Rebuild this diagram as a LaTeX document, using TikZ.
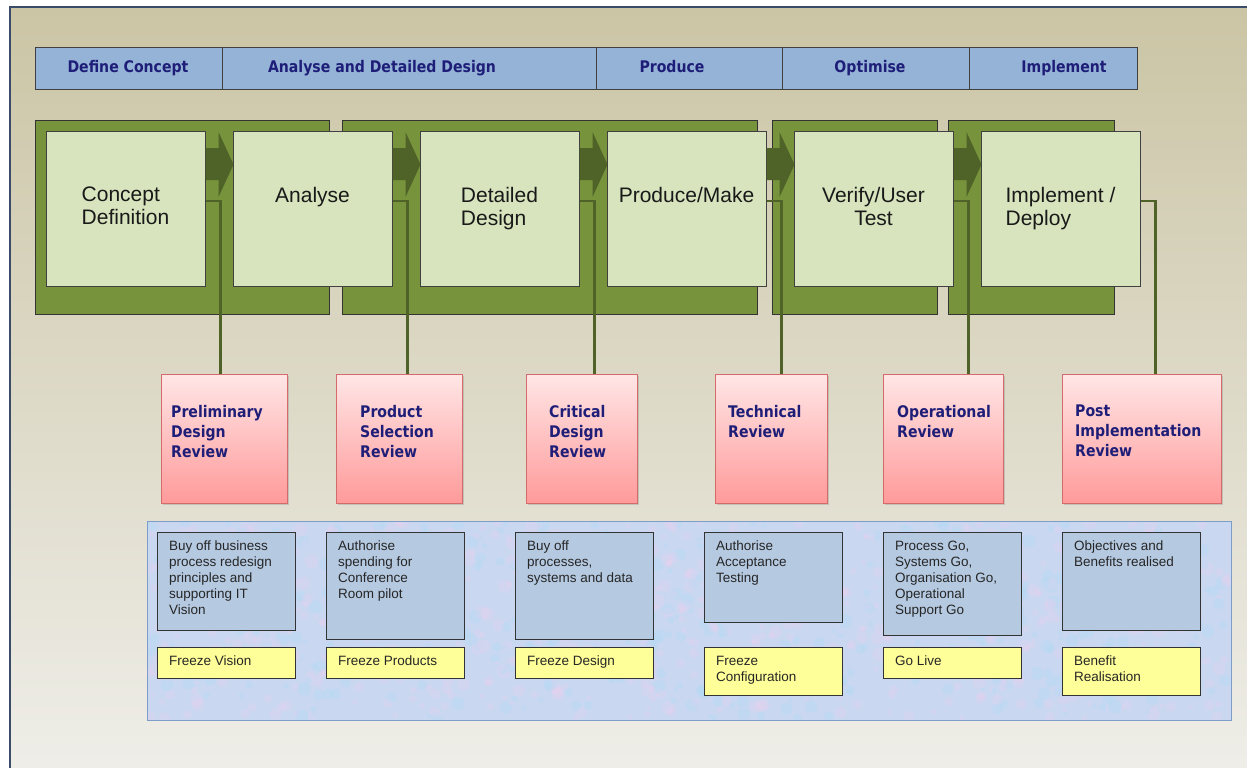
\documentclass[tikz,border=0pt]{standalone}
\usepackage{fontspec}
\setmainfont{Liberation Sans}
\newfontfamily\gatefont[FakeStretch=0.88]{DejaVu Sans}
\usetikzlibrary{positioning,shadows}

\definecolor{bgtop}{HTML}{CBC5A5}
\definecolor{bgbot}{HTML}{EFEEE9}
\definecolor{frameline}{HTML}{3A4C69}
\definecolor{barfill}{HTML}{95B3D7}
\definecolor{navy}{RGB}{30,30,120}
\definecolor{groupfill}{HTML}{77933C}
\definecolor{phasefill}{HTML}{D7E4BD}
\definecolor{flowfill}{HTML}{4F6228}
\definecolor{revtop}{HTML}{FFE6E6}
\definecolor{revbot}{HTML}{FF9A9A}
\definecolor{revline}{HTML}{D56A6A}
\definecolor{panelfill}{HTML}{C9D7F1}
\definecolor{panelline}{HTML}{7F9DC9}
\definecolor{notefill}{HTML}{B5C9E1}
\definecolor{freezefill}{HTML}{FFFF99}

\begin{document}
\begin{tikzpicture}[x=1pt,y=-1pt,
  bar/.style={draw=black!75,line width=1pt,fill=barfill},
  bartext/.style={anchor=base,text=navy,font=\gatefont\bfseries\fontsize{16}{18}\selectfont,inner sep=0pt},
  group/.style={draw=black!80,line width=1pt,fill=groupfill},
  phase/.style={draw=black!75,line width=1pt,fill=phasefill,minimum width=159pt,minimum height=155pt,inner sep=0pt},
  phasetext/.style={anchor=north,inner sep=0pt,font=\fontsize{21}{23}\selectfont,text=black!90},
  flow/.style={fill=flowfill},
  link/.style={draw=flowfill,line width=2.8pt},
  review/.style={draw=revline,line width=1pt,top color=revtop,bottom color=revbot,inner sep=0pt,
    drop shadow={shadow xshift=1.5pt,shadow yshift=-2pt,opacity=0.3}},
  revtext/.style={anchor=north west,align=left,inner sep=0pt,text=navy,font=\gatefont\bfseries\fontsize{16}{20}\selectfont},
  note/.style={draw=black!80,line width=1pt,fill=notefill,anchor=north west,minimum width=138pt,inner sep=0pt},
  freeze/.style={draw=black!80,line width=1pt,fill=freezefill,anchor=north west,minimum width=138pt,inner sep=0pt},
  notetext/.style={anchor=north west,align=left,inner sep=0pt,text=black!85,font=\fontsize{13.5}{16}\selectfont}]

\useasboundingbox (0,0) rectangle (1247,768);
\fill[white] (0,0) rectangle (1247,768);
\shade[top color=bgtop,bottom color=bgbot,draw=frameline,line width=2pt] (10,7) rectangle (1262,782);

% stage bar
\foreach \x/\w in {35/222,222/596,596/782,782/969,969/1137}
	\draw[bar] (\x,48) rectangle (\w,89);
\node[bartext] (s1) at (128,73) {Define Concept};
\node[bartext] (s2) at (382,73) {Analyse and Detailed Design};
\node[bartext] (s3) at (672,73) {Produce};
\node[bartext] (s4) at (870,73) {Optimise};
\node[bartext] (s5) at (1064,73) {Implement};

% green groups behind the phases
\foreach \x/\w in {35/329,342/757,772/937,948/1114}
	\draw[group] (\x,120) rectangle (\w,314);

\foreach \i in {1,...,6}
	\node[phase] (b\i) at ({125.5+187*(\i-1)},208.5) {};

\foreach \a/\b in {1/2,2/3,3/4,4/5,5/6}
	\fill[flow] (b\a.east |- 0,148) -- ++(13,0) -- ++(0,-16) -- ++(15,32.5) -- ++(-15,32.5) -- ++(0,-17) -- ++(-13,0) -- cycle;

\foreach \i/\txt/\al in {1/{Concept\\Definition}/left,2/Analyse/center,3/{Detailed\\Design}/left,
		4/Produce\slash Make/center,5/{Verify\slash User\\Test}/center,6/{Implement /\\Deploy}/left}
	\node[phasetext,align=\al] (t\i) at (b\i.north |- 0,187) {\txt};

% review gates
\node[review,minimum width=126pt,minimum height=129pt] (r1) at (224,438.5) {};
\node[review,minimum width=126pt,minimum height=129pt] (r2) at (399,438.5) {};
\node[review,minimum width=111pt,minimum height=129pt] (r3) at (581.5,438.5) {};
\node[review,minimum width=112pt,minimum height=129pt] (r4) at (771,438.5) {};
\node[review,minimum width=120pt,minimum height=129pt] (r5) at (943,438.5) {};
\node[review,minimum width=159pt,minimum height=129pt] (r6) at (1141.5,438.5) {};

\foreach \i in {1,...,6}
	\draw[link] ([yshift=7.5pt]b\i.east) -- ++(15,0) coordinate (k\i) -- (k\i |- r\i.north);

\foreach \i/\x/\txt in {1/171/{Preliminary\\Design\\Review},2/360/{Product\\Selection\\Review},3/549/{Critical\\Design\\Review},
		4/728/{Technical\\Review},5/897/{Operational\\Review},6/1075/{Post\\Implementation\\Review}}
	\node[revtext] (rt\i) at (\x,405) {\txt};

% deliverables panel
\draw[panelline,fill=panelfill,line width=1pt] (147,521) rectangle (1231,720);
\begin{scope}
	\clip (148,522) rectangle (1230,719);
	\pgfmathsetseed{11}
	\foreach \k in {1,...,700}
		\fill[pink!70!magenta!40,opacity=0.18] ({148+1082*rnd},{522+197*rnd}) circle ({2+5*rnd});
	\foreach \k in {1,...,500}
		\fill[cyan!40,opacity=0.15] ({148+1082*rnd},{522+197*rnd}) circle ({2+5*rnd});
\end{scope}

\foreach \i/\x/\h/\fh in {1/157/98/31,2/326/107/31,3/515/107/31,4/704/90/48,5/883/103/31,6/1062/98/48}{
	\node[note,minimum height=\h pt] (d\i) at (\x,532) {};
	\node[freeze,minimum height=\fh pt] (f\i) at (\x,647) {};
}

\node[notetext] (dt1) at ([shift={(12,9)}]d1.north west) {Buy off business\\process redesign\\principles and\\supporting IT\\Vision};
\node[notetext] (dt2) at ([shift={(12,9)}]d2.north west) {Authorise\\spending for\\Conference\\Room pilot};
\node[notetext] (dt3) at ([shift={(12,9)}]d3.north west) {Buy off\\processes,\\systems and data};
\node[notetext] (dt4) at ([shift={(12,9)}]d4.north west) {Authorise\\Acceptance\\Testing};
\node[notetext] (dt5) at ([shift={(12,9)}]d5.north west) {Process Go,\\Systems Go,\\Organisation Go,\\Operational\\Support Go};
\node[notetext] (dt6) at ([shift={(12,9)}]d6.north west) {Objectives and\\Benefits realised};

\node[notetext] (ft1) at ([shift={(12,9)}]f1.north west) {Freeze Vision};
\node[notetext] (ft2) at ([shift={(12,9)}]f2.north west) {Freeze Products};
\node[notetext] (ft3) at ([shift={(12,9)}]f3.north west) {Freeze Design};
\node[notetext] (ft4) at ([shift={(12,9)}]f4.north west) {Freeze\\Configuration};
\node[notetext] (ft5) at ([shift={(12,9)}]f5.north west) {Go Live};
\node[notetext] (ft6) at ([shift={(12,9)}]f6.north west) {Benefit\\Realisation};

\end{tikzpicture}
\end{document}
